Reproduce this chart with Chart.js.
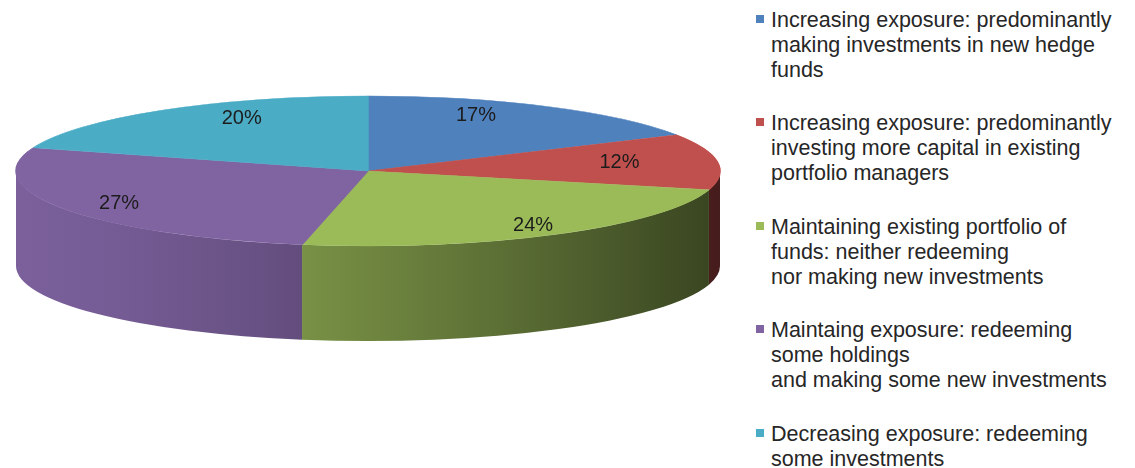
<!DOCTYPE html>
<html>
<head>
<meta charset="utf-8">
<script src="https://cdn.jsdelivr.net/npm/chart.js@4.4.1/dist/chart.umd.min.js"></script>
<style>
  html, body { margin: 0; padding: 0; background: #fff; }
  body { width: 1135px; height: 468px; position: relative; overflow: hidden; font-family: "Liberation Sans", Arial, sans-serif; }
  #pieBox { position: absolute; left: 0; top: 0; width: 740px; height: 468px; }
  #legend { position: absolute; left: 756px; top: 8px; }
  .item { position: relative; padding-left: 15px; margin-bottom: 28.4px; font-size: 21.5px; line-height: 25px; color: #262626; white-space: nowrap; }
  .item .box { position: absolute; left: 0; top: 7px; width: 8px; height: 8px; }
</style>
</head>
<body>
<div id="pieBox"><canvas id="exposureChart"></canvas></div>
<div id="legend"></div>
<script>
const categories = [
    ['Increasing exposure: predominantly', 'making investments in new hedge', 'funds'],
    ['Increasing exposure: predominantly', 'investing more capital in existing', 'portfolio managers'],
    ['Maintaining existing portfolio of', 'funds: neither redeeming', 'nor making new investments'],
    ['Maintaing exposure: redeeming', 'some holdings', 'and making some new investments'],
    ['Decreasing exposure: redeeming', 'some investments']
];
const shares = [17, 12, 24, 27, 20];
const colors = ['#4f81bd', '#c0504d', '#9bbb59', '#8064a2', '#4bacc6'];

// top face ellipse and wall height
const CX = 368, CY = 171, RX = 352, RY = 75, DEPTH = 95;

function shade(hex, f) {
    const n = parseInt(hex.slice(1), 16);
    const r = Math.round(((n >> 16) & 255) * f);
    const g = Math.round(((n >> 8) & 255) * f);
    const b = Math.round((n & 255) * f);
    return `rgb(${r},${g},${b})`;
}

// side walls get darker towards the right
function wallLight(x) {
    const u = Math.min(Math.max((x - (CX - RX)) / (2 * RX), 0), 1);
    return 0.96 - 0.6 * Math.pow(u, 1.3);
}

const pie3d = {
    id: 'pie3d',
    beforeDatasetsDraw(chart) {
        const ctx = chart.ctx;
        const arcs = chart.getDatasetMeta(0).data;

        // front walls: only the part of each slice between 0 and PI faces us
        arcs.forEach((arc, i) => {
            const s = Math.max(arc.startAngle, 0);
            const e = Math.min(arc.endAngle, Math.PI);
            if (e <= s) return;
            const xR = CX + RX * Math.cos(s);
            const xL = CX + RX * Math.cos(e);
            const grad = ctx.createLinearGradient(xL, 0, xR, 0);
            for (let k = 0; k <= 8; k++) {
                const x = xL + (xR - xL) * k / 8;
                grad.addColorStop(k / 8, shade(colors[i], wallLight(x)));
            }
            ctx.beginPath();
            ctx.ellipse(CX, CY, RX, RY, 0, s, e);
            ctx.ellipse(CX, CY + DEPTH, RX, RY, 0, e, s, true);
            ctx.closePath();
            ctx.fillStyle = grad;
            ctx.fill();
        });

        // squash the flat pie onto the top face
        const { x, y, outerRadius } = arcs[0];
        ctx.save();
        ctx.translate(CX, CY);
        ctx.scale(RX / outerRadius, RY / outerRadius);
        ctx.translate(-x, -y);
    },
    afterDatasetsDraw(chart) {
        const ctx = chart.ctx;
        ctx.restore();

        const arcs = chart.getDatasetMeta(0).data;
        const values = chart.data.datasets[0].data;
        ctx.save();
        ctx.font = '20px "Liberation Sans", Arial, sans-serif';
        ctx.fillStyle = '#1c1c1c';
        ctx.textAlign = 'center';
        ctx.textBaseline = 'middle';
        arcs.forEach((arc, i) => {
            const mid = (arc.startAngle + arc.endAngle) / 2;
            // slices further back sit a little closer to the middle
            const fx = 0.74 + 0.16 * Math.sin(mid);
            const lx = CX + RX * fx * Math.cos(mid);
            const ly = CY + RY * 0.86 * Math.sin(mid);
            ctx.fillText(values[i] + '%', lx, ly);
        });
        ctx.restore();
    }
};

new Chart(document.getElementById('exposureChart'), {
    type: 'pie',
    data: {
        labels: categories.map(c => c.join(' ')),
        datasets: [{
            data: shares,
            backgroundColor: colors,
            borderColor: colors,
            borderWidth: 1,
            clip: false
        }]
    },
    options: {
        responsive: true,
        maintainAspectRatio: false,
        animation: false,
        layout: { padding: 0 },
        plugins: {
            legend: { display: false },
            tooltip: { enabled: false }
        }
    },
    plugins: [pie3d]
});

// legend on the right, one block per slice
const legend = document.getElementById('legend');
categories.forEach((lines, i) => {
    const item = document.createElement('div');
    item.className = 'item';
    const box = document.createElement('span');
    box.className = 'box';
    box.style.background = colors[i];
    item.appendChild(box);
    lines.forEach(line => {
        const row = document.createElement('div');
        row.textContent = line;
        item.appendChild(row);
    });
    legend.appendChild(item);
});
</script>
</body>
</html>
